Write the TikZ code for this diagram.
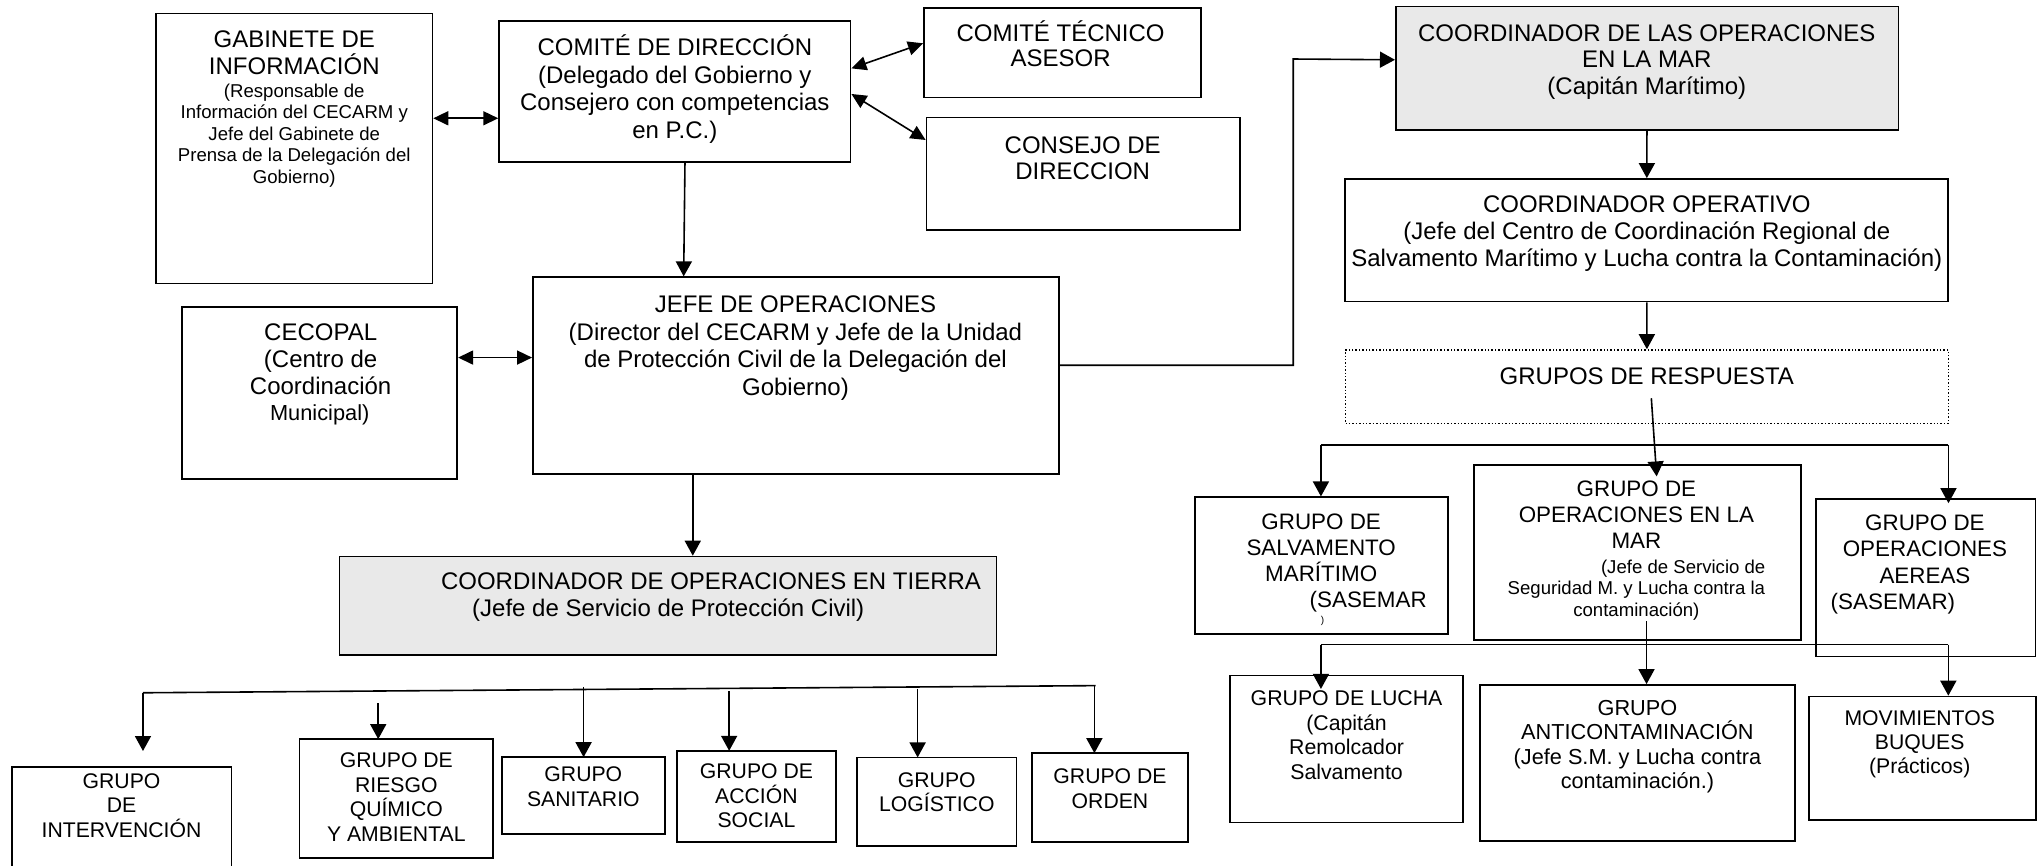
\documentclass[tikz,border=0pt]{standalone}
\usepackage{fontspec}
\setmainfont{Liberation Sans}
\usetikzlibrary{arrows.meta,fit,calc}

\begin{document}
\begin{tikzpicture}[x=0.65pt,y=-0.65pt]

\tikzstyle{box}=[draw,rectangle,line width=0.85pt,inner sep=0pt]
\tikzstyle{gbox}=[box,fill=gray!17]
\tikzstyle{dotbox}=[draw,rectangle,line width=0.7pt,dash pattern=on 0.7pt off 1pt,inner sep=0pt]
\tikzstyle{big}=[inner sep=0pt,align=center,font=\fontsize{12}{13.65}\selectfont]
\tikzstyle{sml}=[inner sep=0pt,align=center,font=\fontsize{9.3}{10.8}\selectfont]
\tikzstyle{grp}=[inner sep=0pt,align=center,font=\fontsize{11.2}{13}\selectfont]
\tikzstyle{land}=[inner sep=0pt,align=center,font=\fontsize{10.6}{12.35}\selectfont]
\tikzstyle{wire}=[line width=0.8pt]
\tikzstyle{arr}=[wire,-{Triangle[length=7.5pt,width=8pt]}]
\tikzstyle{dbl}=[wire,{Triangle[length=7.5pt,width=7pt]}-{Triangle[length=7.5pt,width=7pt]}]

\useasboundingbox (0,0) rectangle (1568,666);
\fill[white] (0,0) rectangle (1568,666);

% Direction boxes on the upper left
\node[box,fit={(120,10.3) (332.7,218)}] (gab) {};
\node[big,anchor=north] (gab-t) at (226.4,23.2) {GABINETE DE\\INFORMACIÓN};
\node[sml,anchor=north] (gab-s) at (226.4,64) {(Responsable de\\Información del CECARM y\\Jefe del Gabinete de\\Prensa de la Delegación del\\Gobierno)};

\node[box,fit={(384,15.9) (654.4,124.9)}] (comite) {};
\node[big,anchor=north,font=\fontsize{12}{13.85}\selectfont] (comite-t) at (519.2,26.4) {COMITÉ DE DIRECCIÓN\\(Delegado del Gobierno y\\Consejero con competencias\\en P.C.)};

\node[box,fit={(710.8,6.4) (923.8,75.1)}] (cta) {};
\node[big,anchor=north,font=\fontsize{12}{12.8}\selectfont] (cta-t) at (816,15.5) {COMITÉ TÉCNICO\\ASESOR};

\node[box,fit={(712.8,90.3) (953.8,177)}] (consejo) {};
\node[big,anchor=north,font=\fontsize{12}{13.2}\selectfont] (consejo-t) at (833,104.8) {CONSEJO DE\\DIRECCION};

\node[box,fit={(410,213.3) (814.5,364.6)}] (jefe) {};
\node[big,anchor=north,font=\fontsize{12}{13.8}\selectfont] (jefe-t) at (612,227.2) {JEFE DE OPERACIONES\\(Director del CECARM y Jefe de la Unidad\\de Protección Civil de la Delegación del\\Gobierno)};

\node[box,fit={(139.8,236.4) (351.8,368.7)}] (cecopal) {};
\node[big,anchor=north,font=\fontsize{12}{13.4}\selectfont] (cecopal-t) at (246.7,249) {CECOPAL\\(Centro de\\Coordinación};
\node[inner sep=0pt,anchor=north,font=\fontsize{10.9}{12}\selectfont] (cecopal-s) at (246,311) {Municipal)};

\node[gbox,fit={(261.3,428.2) (766.6,503.8)}] (cot) {};
\node[big,align=left,anchor=north west] (cot-t) at (339,440.2) {COORDINADOR DE OPERACIONES EN TIERRA\\\hspace*{15.6pt}(Jefe de Servicio de Protección Civil)};

% Links between the direction boxes
\draw[dbl] (gab.east |- 0,91) -- (comite.west |- 0,91);
\draw[dbl] (comite.east |- 0,52.6) -- (cta.west |- 0,33.3);
\draw[dbl] (comite.east |- 0,72.3) -- (consejo.west |- 0,107.7);
\draw[arr] (comite.south -| 527,0) -- (jefe.north -| 526,0);
\draw[dbl] (cecopal.east |- 0,275.1) -- (jefe.west |- 0,275.1);
\draw[arr] (jefe.south -| 533,0) -- (cot.north -| 533,0);

% Land response groups
\foreach \n/\xa/\ya/\xb/\yb/\ty/\txt in {
    gint/9/590/178/680/594.8/{GRUPO\\DE\\INTERVENCIÓN},
    griesgo/230.4/568.7/379.4/660/578.8/{GRUPO DE\\RIESGO\\QUÍMICO\\Y AMBIENTAL},
    gsan/386/582.6/511.6/641.6/589.6/{GRUPO\\SANITARIO},
    gacc/521/577.7/643/648/587.2/{GRUPO DE\\ACCIÓN\\SOCIAL},
    glog/659.5/582.8/782/650.8/594/{GRUPO\\LOGÍSTICO},
    gord/794/579.5/914/648/591/{GRUPO DE\\ORDEN}}
{
  \node[box,fit={(\xa,\ya) (\xb,\yb)}] (\n) {};
  \node[land,anchor=north] (\n-t) at (\n.north |- 0,\ty) {\txt};
}

% Bus over the land groups and the drops to each box
\coordinate (busL) at (110,533);
\coordinate (busR) at (843,527.5);
\draw[wire] (busL) -- (busR);
\foreach \n/\xs/\ys in {gint/110/533, griesgo/291/541, gsan/449/528.5,
    gacc/561/532, glog/706/530, gord/842/527.5}
  \coordinate (\n-in) at (\xs,\ys);
\draw[arr,shorten >=7.5pt] (gint-in) -- (gint-in |- gint.north);
\foreach \n in {griesgo,gsan,gacc,glog,gord}
  \draw[arr,shorten >=-0.4pt] (\n-in) -- (\n-in |- \n.north);

% Sea side of the chart
\node[gbox,fit={(1073.9,5.1) (1460.6,100)}] (com) {};
\node[big,anchor=north,font=\fontsize{12}{13.2}\selectfont] (com-t) at (1267,18.6) {COORDINADOR DE LAS OPERACIONES\\EN LA MAR\\(Capitán Marítimo)};

\node[box,fit={(1034.9,137.7) (1498.9,232)}] (cop) {};
\node[big,anchor=north,font=\fontsize{12}{13.3}\selectfont] (cop-t) at (1267,150.6) {COORDINADOR OPERATIVO\\(Jefe del Centro de Coordinación Regional de\\Salvamento Marítimo y Lucha contra la Contaminación)};

\node[dotbox,fit={(1035.2,269.2) (1499.1,325.6)}] (gresp) {};
\node[big,anchor=north] (gresp-t) at (1267,282.7) {GRUPOS DE RESPUESTA};

\node[box,fit={(919.5,382.6) (1113.8,488)}] (gsal) {};
\node[grp,anchor=north] (gsal-t) at (1016.5,394.8) {GRUPO DE\\SALVAMENTO\\MARÍTIMO\\\hspace*{47pt}(SASEMAR};
\node[inner sep=0pt,font=\fontsize{5}{6}\selectfont] (gsal-p) at (1017.5,477.5) {)};

\node[box,fit={(1134.2,358) (1385.4,492.3)}] (gopm) {};
\node[grp,anchor=north] (gopm-t) at (1259,370) {GRUPO DE\\OPERACIONES EN LA\\MAR};
\node[sml,anchor=north] (gopm-s) at (1259,430.4) {\hspace*{46.8pt}(Jefe de Servicio de\\Seguridad M. y Lucha contra la\\contaminación)};

\node[box,fit={(1397.2,383.8) (1566,505.1)}] (gaer) {};
\node[grp,anchor=north,font=\fontsize{11.2}{13.2}\selectfont] (gaer-t) at (1481,395.6) {GRUPO DE\\OPERACIONES\\AEREAS\\(SASEMAR)\hspace*{32pt}\null};

\node[box,fit={(946.4,519.7) (1125.7,632.8)}] (glucha) {};
\node[inner sep=0pt,align=center,anchor=north,font=\fontsize{10.65}{12.2}\selectfont] (glucha-t) at (1036,531.4) {GRUPO DE LUCHA\\(Capitán\\Remolcador\\Salvamento};

\node[box,fit={(1138.4,527) (1381.2,647)}] (ganti) {};
\node[inner sep=0pt,align=center,anchor=north,font=\fontsize{10.86}{12.2}\selectfont] (ganti-t) at (1259.8,538.4) {GRUPO\\ANTICONTAMINACIÓN\\(Jefe S.M. y Lucha contra\\contaminación.)};

\node[box,fit={(1391.8,535.9) (1566.5,630.8)}] (gmov) {};
\node[inner sep=0pt,align=center,anchor=north,font=\fontsize{10.6}{12.1}\selectfont] (gmov-t) at (1477,546.2) {MOVIMIENTOS\\BUQUES\\(Prácticos)};

% Links on the sea side
\draw[arr] (jefe.east |- 0,281) -- (995,281) -- (995,45.4) -- (com.west |- 0,46);
\draw[arr] (com) -- (cop);
\draw[arr] (cop) -- (gresp);
\coordinate (respout) at (1270.5,306.4);
\draw[arr] (respout) -- ($(gopm.north)+(14.8,9.2)$);

\coordinate (r2l) at (1016.3,342.3);
\coordinate (r2r) at (1499.1,342.3);
\draw[wire] (r2l) -- (r2r);
\draw[arr] (r2l) -- (r2l |- gsal.north);
\draw[arr] (r2r) -- ($(r2r |- gaer.north)+(0,4)$);

\coordinate (r3l) at (1016.3,495.9);
\coordinate (r3r) at (1499,495.9);
\draw[wire] (r3l) -- (r3r);
\draw[arr] (r3l) -- ($(r3l |- glucha.north)+(0,11)$);
\draw[arr] (r3r) -- (r3r |- gmov.north);
\coordinate (opmout) at (1266.8,478);
\draw[arr] (opmout) -- (opmout |- ganti.north);

\end{tikzpicture}
\end{document}
